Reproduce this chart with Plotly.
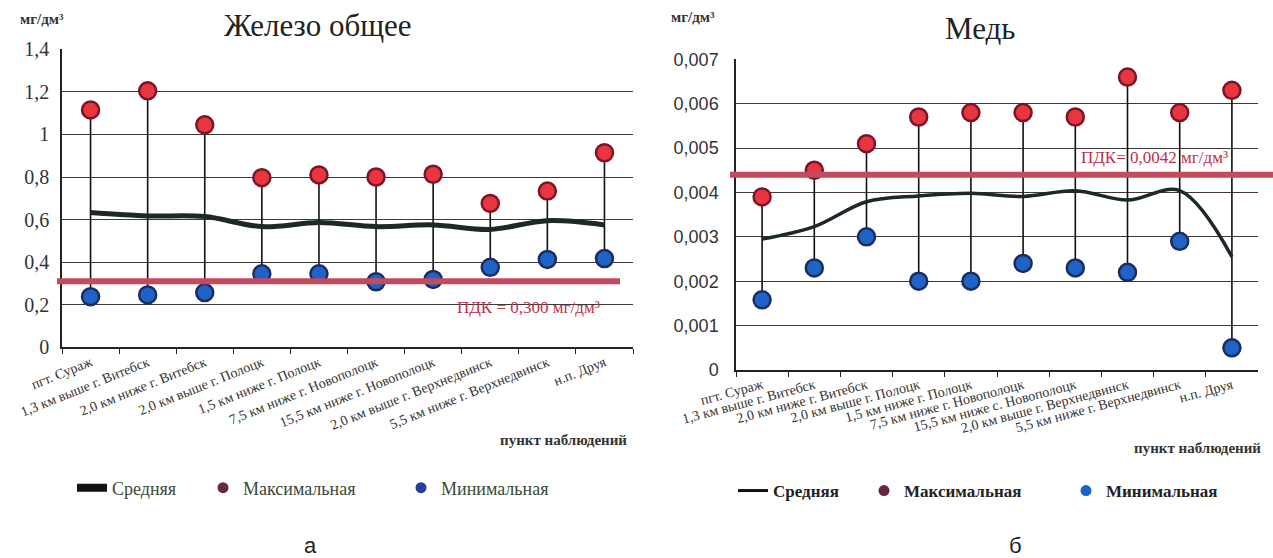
import plotly.graph_objects as go

# ---------------- data ----------------
cats_fe = ["пгт. Сураж", "1,3 км выше г. Витебск", "2,0 км ниже г. Витебск",
           "2,0 км выше г. Полоцк", "1,5 км ниже г. Полоцк", "7,5 км ниже г. Новополоцк",
           "15,5 км ниже г. Новополоцк", "2,0 км выше г. Верхнедвинск",
           "5,5 км ниже г. Верхнедвинск", "н.п. Друя"]
cats_cu = ["пгт. Сураж", "1,3 км выше г. Витебск", "2,0 км ниже г. Витебск",
           "2,0 км выше г. Полоцк", "1,5 км ниже г. Полоцк", "7,5 км ниже г. Новополоцк",
           "15,5 км ниже с. Новополоцк", "2,0 км выше г. Верхнедвинск",
           "5,5 км ниже г. Верхнедвинск", "н.п. Друя"]

fe_max = [1.115, 1.205, 1.045, 0.797, 0.810, 0.800, 0.813, 0.676, 0.734, 0.914]
fe_min = [0.238, 0.246, 0.257, 0.345, 0.345, 0.308, 0.319, 0.376, 0.413, 0.417]
fe_mean = [0.633, 0.617, 0.614, 0.567, 0.586, 0.567, 0.575, 0.554, 0.595, 0.575]
fe_pdk = 0.31

cu_max = [0.0039, 0.0045, 0.0051, 0.0057, 0.0058, 0.0058, 0.0057, 0.0066, 0.0058, 0.0063]
cu_min = [0.00158, 0.0023, 0.0030, 0.0020, 0.0020, 0.0024, 0.0023, 0.0022, 0.0029, 0.0005]
cu_mean = [0.00295, 0.00323, 0.00379, 0.00392, 0.00398, 0.00391, 0.00404, 0.00383, 0.00404, 0.00255]
cu_pdk = 0.0044

fe_pdk_label = "ПДК = 0,300 мг/дм³"
cu_pdk_label = "ПДК= 0,0042 мг/дм³"
series_names = ["Средняя", "Максимальная", "Минимальная"]

# ---------------- styles ----------------
RED_FILL = "#e8353f"
RED_EDGE = "#7a1428"
BLUE_FILL = "#1f62c8"
BLUE_EDGE = "#1a2d5e"
MEAN_COL = "#1d2a21"
PDK_COL = "#c44a60"
SERIF = "Liberation Serif"
SANS = "Liberation Sans"
W, H = 1273, 558

fig = go.Figure()


def add_panel(cats, vmax, vmin, vmean, xa, ya, mean_w, legends, min_leg_col, line_leg_w):
    sx, sy = [], []
    for c, lo, hi in zip(cats, vmin, vmax):
        sx += [c, c, None]
        sy += [lo, hi, None]
    fig.add_trace(go.Scatter(x=sx, y=sy, mode="lines", line=dict(color="#111", width=1.6),
                             xaxis=xa, yaxis=ya, showlegend=False, hoverinfo="skip"))
    fig.add_trace(go.Scatter(x=cats, y=vmean, mode="lines",
                             line=dict(color=MEAN_COL, width=mean_w, shape="spline"),
                             xaxis=xa, yaxis=ya, showlegend=False))
    fig.add_trace(go.Scatter(x=cats, y=vmax, mode="markers",
                             marker=dict(color=RED_FILL, size=17, line=dict(color=RED_EDGE, width=2.5)),
                             xaxis=xa, yaxis=ya, showlegend=False))
    fig.add_trace(go.Scatter(x=cats, y=vmin, mode="markers",
                             marker=dict(color=BLUE_FILL, size=17, line=dict(color=BLUE_EDGE, width=2.5)),
                             xaxis=xa, yaxis=ya, showlegend=False))
    fig.add_trace(go.Scatter(x=[None], y=[None], mode="lines", name=series_names[0],
                             line=dict(color="#111", width=line_leg_w), xaxis=xa, yaxis=ya, legend=legends[0]))
    fig.add_trace(go.Scatter(x=[None], y=[None], mode="markers", name=series_names[1],
                             marker=dict(color="#6b2838", size=11), xaxis=xa, yaxis=ya, legend=legends[1]))
    fig.add_trace(go.Scatter(x=[None], y=[None], mode="markers", name=series_names[2],
                             marker=dict(color=min_leg_col, size=11), xaxis=xa, yaxis=ya, legend=legends[2]))


add_panel(cats_fe, fe_max, fe_min, fe_mean, "x", "y", 5, ["legend", "legend2", "legend3"], "#2a3c9c", 8)
add_panel(cats_cu, cu_max, cu_min, cu_mean, "x2", "y2", 3.5, ["legend4", "legend5", "legend6"], "#1566c6", 3)

fig.add_shape(type="line", xref="paper", yref="y", x0=57 / W, x1=620 / W, y0=fe_pdk, y1=fe_pdk,
              line=dict(color=PDK_COL, width=6), layer="above")
fig.add_shape(type="line", xref="paper", yref="y2", x0=730 / W, x1=1.0, y0=cu_pdk, y1=cu_pdk,
              line=dict(color=PDK_COL, width=6), layer="above")

common_y = dict(showgrid=True, gridcolor="#3a3a3a", gridwidth=1, showline=True, linecolor="#222",
                linewidth=1.5, ticks="", zeroline=False, automargin=False)
common_x = dict(type="category", showgrid=False, showline=True, linecolor="#222", linewidth=1.5,
                ticks="outside", ticklen=5, tickcolor="#222", tickson="boundaries",
                range=[-0.5, 9.5], automargin=False)


def leg(xpx, ypx, size, color, weight="normal"):
    return dict(orientation="h", x=xpx / W, y=1 - ypx / H, xanchor="left", yanchor="middle",
                font=dict(family=SERIF, size=size, color=color, weight=weight), bgcolor="rgba(0,0,0,0)")


fig.update_layout(
    width=W, height=H,
    margin=dict(l=0, r=0, t=0, b=0, autoexpand=False),
    paper_bgcolor="white", plot_bgcolor="white",
    separators=", ",
    font=dict(family=SERIF, color="#222"),
    xaxis=dict(domain=[62 / W, 633 / W], anchor="y", tickangle=-22,
               tickfont=dict(family=SERIF, size=14, color="#333"), **common_x),
    yaxis=dict(domain=[1 - 347.3 / H, 1 - 49.3 / H], anchor="x", range=[0, 1.4], dtick=0.2,
               ticklabelstandoff=7,
               tickfont=dict(family=SERIF, size=20, color="#333"), **common_y),
    xaxis2=dict(domain=[736 / W, 1258 / W], anchor="y2", tickangle=-15,
                tickfont=dict(family=SERIF, size=14, color="#333"), **common_x),
    yaxis2=dict(domain=[1 - 370 / H, 1 - 59.3 / H], anchor="x2", range=[0, 0.007], dtick=0.001,
                tickformat=".3~f", ticklabelstandoff=12,
                tickfont=dict(family=SANS, size=18, color="#333"), **common_y),
    legend=leg(72, 488, 18, "#3a4a3a"),
    legend2=leg(203, 488, 18, "#3a4a3a"),
    legend3=leg(401, 488, 18, "#3a4a3a"),
    legend4=leg(733, 491, 17, "#222", "bold"),
    legend5=leg(864, 491, 17, "#222", "bold"),
    legend6=leg(1066, 491, 17, "#222", "bold"),
    showlegend=True,
)

ann = [
    dict(text="Железо общее", x=318, y=26, font=dict(family=SERIF, size=31, color="#222")),
    dict(text="Медь", x=980, y=28, font=dict(family=SERIF, size=31, color="#222")),
    dict(text="<b>мг/дм³</b>", x=42, y=19, font=dict(family=SERIF, size=15, color="#333")),
    dict(text="<b>мг/дм³</b>", x=693, y=17, font=dict(family=SERIF, size=15, color="#333")),
    dict(text=fe_pdk_label, x=528, y=307, font=dict(family=SERIF, size=17, color="#c0304a")),
    dict(text=cu_pdk_label, x=1154, y=157, font=dict(family=SERIF, size=17, color="#c0304a")),
    dict(text="<b>пункт наблюдений</b>", x=563, y=440, font=dict(family=SERIF, size=15, color="#333")),
    dict(text="<b>пункт наблюдений</b>", x=1197, y=448, font=dict(family=SERIF, size=15, color="#333")),
    dict(text="а", x=310, y=545, font=dict(family=SANS, size=22, color="#222")),
    dict(text="б", x=1015, y=545, font=dict(family=SANS, size=22, color="#222")),
]
for a in ann:
    a["x"] = a["x"] / W
    a["y"] = 1 - a["y"] / H
    fig.add_annotation(xref="paper", yref="paper", showarrow=False, xanchor="center", yanchor="middle", **a)

fig.write_html("out.html")
